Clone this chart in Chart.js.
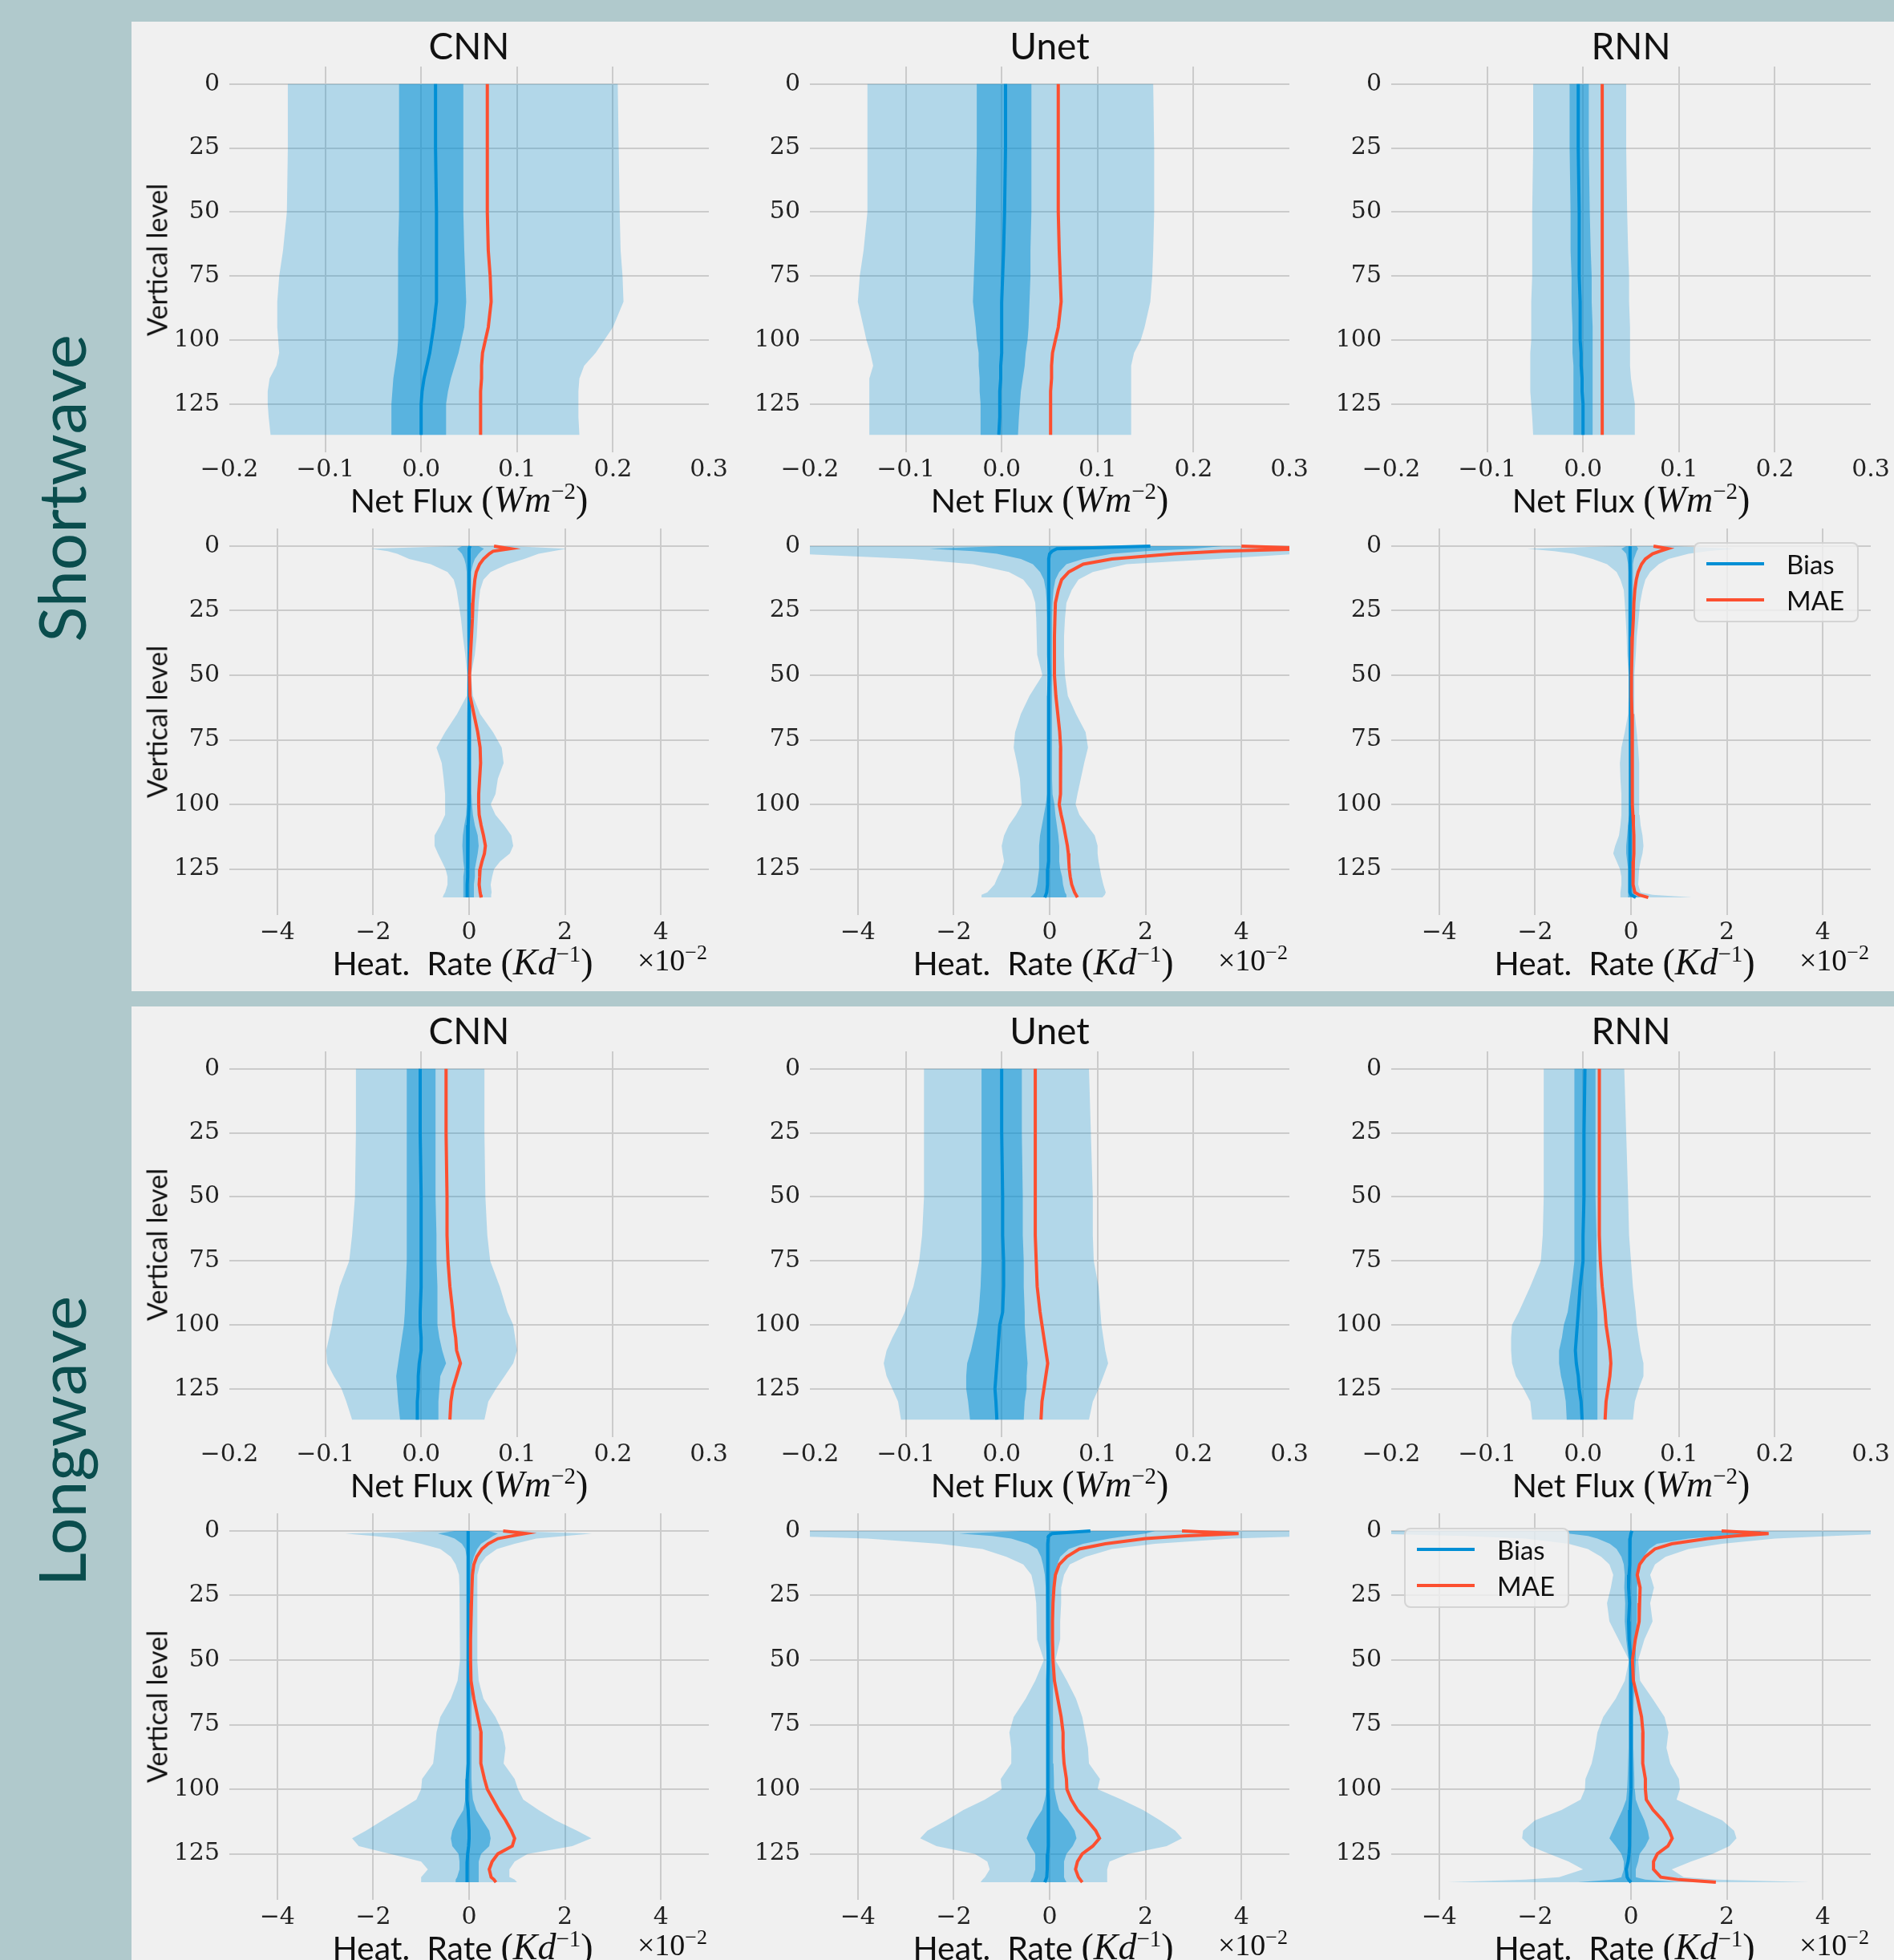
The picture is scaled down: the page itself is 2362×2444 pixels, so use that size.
<!DOCTYPE html>
<html>
<head>
<meta charset="utf-8">
<script src="https://cdn.jsdelivr.net/npm/chart.js@4.4.1/dist/chart.umd.min.js"></script>
<style>
  html, body { margin: 0; padding: 0; }
  body { width: 2362px; height: 2444px; background: #b0c9cc; position: relative; overflow: hidden; font-family: Lato, sans-serif; }
  .panel { position: absolute; left: 164px; width: 2198px; height: 1209px; background: #f0f0f0; }
  canvas { position: absolute; }
  .txt { position: absolute; white-space: nowrap; color: #111; transform: translate(-50%, -50%); }
  .title { font-size: 46px; }
  .xlab { font-size: 41px; }
  .ylab { font-size: 34px; transform: translate(-50%, -50%) rotate(-90deg); }
  .row { font-size: 82px; color: #0a4d4d; transform: translate(-50%, -50%) rotate(-90deg); }
  .m { font-family: 'Liberation Serif', serif; font-size: 46px; }
  .m sup { font-size: 29px; }
  .off { position: absolute; white-space: nowrap; font-family: 'Liberation Serif', serif; font-size: 38px; color: #111; transform: translate(-100%, -50%); }
  .off sup { font-size: 26px; }
  .legend { position: absolute; background: rgba(240,240,240,0.8); border: 2px solid rgba(204,204,204,0.8); border-radius: 8px; box-sizing: border-box; }
  .legend .item { position: absolute; font-size: 33px; color: #111; transform: translateY(-50%); }
  .legend .sw { position: absolute; height: 4px; transform: translateY(-50%); }
</style>
</head>
<body>
<div class="panel" style="top:27px"></div>
<div class="panel" style="top:1255px"></div>
<script>
// vertical levels (flux on half-levels, heating rate on full levels)
const fluxLevels = [0, 25, 50, 65, 75, 85, 95, 100, 105, 110, 115, 120, 125, 130, 137];
const heatLevels = [0, 1, 2, 3, 5, 7, 10, 13, 17, 22, 28, 35, 42, 50, 58, 65, 72, 78, 84, 90, 96, 100, 104, 108, 112, 116, 119, 122, 125, 128, 131, 134, 135, 136];

const fluxTicks = [-0.2, -0.1, 0, 0.1, 0.2, 0.3];
const heatTicks = [-4, -2, 0, 2, 4];   // x 10^-2
const levelTicks = [0, 25, 50, 75, 100, 125];
const models = ["CNN", "Unet", "RNN"];

// ---- Shortwave, net flux (W m^-2) ----
const swFluxCnnOuterLo = [-0.139,-0.139,-0.140,-0.144,-0.148,-0.150,-0.150,-0.149,-0.148,-0.151,-0.158,-0.160,-0.160,-0.159,-0.157];
const swFluxCnnInnerLo = [-0.023,-0.023,-0.023,-0.024,-0.024,-0.024,-0.024,-0.024,-0.025,-0.027,-0.029,-0.030,-0.031,-0.031,-0.031];
const swFluxCnnBias    = [0.015,0.015,0.016,0.016,0.016,0.016,0.013,0.011,0.009,0.006,0.003,0.001,0.000,0.000,0.000];
const swFluxCnnInnerHi = [0.044,0.044,0.044,0.045,0.046,0.047,0.045,0.042,0.039,0.035,0.031,0.028,0.026,0.026,0.026];
const swFluxCnnOuterHi = [0.205,0.206,0.207,0.208,0.210,0.211,0.200,0.191,0.182,0.170,0.165,0.164,0.164,0.164,0.165];
const swFluxCnnMae     = [0.069,0.069,0.069,0.070,0.072,0.073,0.070,0.067,0.064,0.063,0.063,0.062,0.062,0.062,0.062];

const swFluxUnetOuterLo = [-0.140,-0.140,-0.140,-0.144,-0.148,-0.150,-0.144,-0.141,-0.137,-0.134,-0.138,-0.138,-0.138,-0.138,-0.138];
const swFluxUnetInnerLo = [-0.026,-0.026,-0.027,-0.028,-0.029,-0.030,-0.027,-0.026,-0.024,-0.024,-0.023,-0.023,-0.022,-0.022,-0.022];
const swFluxUnetBias    = [0.004,0.004,0.003,0.002,0.001,0.000,0.000,0.000,0.000,-0.001,-0.001,-0.002,-0.002,-0.002,-0.003];
const swFluxUnetInnerHi = [0.031,0.031,0.031,0.030,0.030,0.029,0.028,0.027,0.025,0.024,0.022,0.020,0.019,0.018,0.017];
const swFluxUnetOuterHi = [0.158,0.159,0.159,0.158,0.157,0.155,0.149,0.145,0.138,0.135,0.135,0.135,0.135,0.135,0.135];
const swFluxUnetMae     = [0.059,0.059,0.059,0.060,0.061,0.062,0.059,0.056,0.053,0.052,0.052,0.051,0.051,0.051,0.051];

const swFluxRnnOuterLo = [-0.052,-0.052,-0.053,-0.053,-0.053,-0.054,-0.054,-0.054,-0.055,-0.055,-0.055,-0.055,-0.054,-0.053,-0.052];
const swFluxRnnInnerLo = [-0.014,-0.014,-0.013,-0.013,-0.012,-0.012,-0.011,-0.011,-0.011,-0.010,-0.010,-0.010,-0.010,-0.010,-0.010];
const swFluxRnnBias    = [-0.005,-0.005,-0.004,-0.004,-0.004,-0.003,-0.003,-0.003,-0.002,-0.002,-0.001,-0.001,0.000,0.000,0.000];
const swFluxRnnInnerHi = [0.006,0.006,0.007,0.008,0.009,0.009,0.010,0.010,0.010,0.010,0.010,0.010,0.010,0.010,0.010];
const swFluxRnnOuterHi = [0.045,0.045,0.046,0.047,0.048,0.048,0.049,0.049,0.049,0.049,0.050,0.052,0.054,0.054,0.054];
const swFluxRnnMae     = [0.020,0.020,0.020,0.020,0.020,0.020,0.020,0.020,0.020,0.020,0.020,0.020,0.020,0.020,0.020];

// ---- Shortwave, heating rate (x 10^-2 K d^-1) ----
const swHeatCnnOuterLo = [-0.3,-2.05,-1.7,-1.5,-1.25,-0.8,-0.45,-0.32,-0.26,-0.22,-0.17,-0.13,-0.08,-0.04,-0.05,-0.25,-0.5,-0.68,-0.57,-0.53,-0.5,-0.5,-0.5,-0.6,-0.72,-0.72,-0.65,-0.57,-0.49,-0.45,-0.45,-0.5,-0.53,-0.55];
const swHeatCnnInnerLo = [-0.15,-0.25,-0.2,-0.15,-0.1,-0.07,-0.05,-0.04,-0.04,-0.04,-0.04,-0.04,-0.03,-0.03,-0.03,-0.04,-0.05,-0.05,-0.05,-0.05,-0.05,-0.05,-0.06,-0.1,-0.13,-0.14,-0.13,-0.12,-0.1,-0.12,-0.12,-0.12,-0.12,-0.12];
const swHeatCnnBias    = [0.02,0,0,0,0,0,0,0,0,0,0,0,0,0,0,0,0,0,0,0,0,0,-0.01,-0.02,-0.03,-0.03,-0.03,-0.03,-0.03,-0.03,-0.04,-0.04,-0.04,-0.04];
const swHeatCnnInnerHi = [0.2,0.31,0.25,0.2,0.12,0.08,0.05,0.04,0.04,0.04,0.04,0.04,0.03,0.03,0.03,0.04,0.05,0.05,0.05,0.05,0.05,0.06,0.08,0.12,0.18,0.2,0.18,0.15,0.12,0.12,0.1,0.1,0.1,0.1];
const swHeatCnnOuterHi = [0.9,2.03,1.75,1.45,1.15,0.8,0.45,0.3,0.23,0.2,0.18,0.16,0.12,0.04,0.08,0.23,0.5,0.68,0.72,0.6,0.55,0.45,0.55,0.73,0.88,0.92,0.85,0.65,0.52,0.48,0.45,0.47,0.46,0.46];
const swHeatCnnMae     = [0.52,0.86,0.5,0.42,0.3,0.22,0.15,0.12,0.1,0.08,0.07,0.05,0.03,0.01,0.02,0.1,0.18,0.23,0.24,0.22,0.2,0.2,0.21,0.25,0.3,0.34,0.32,0.27,0.23,0.22,0.21,0.23,0.24,0.25];

const swHeatUnetOuterLo = [-5.5,-5.5,-5.5,-5.2,-2.86,-1.6,-0.85,-0.55,-0.38,-0.3,-0.28,-0.27,-0.26,-0.15,-0.42,-0.6,-0.72,-0.75,-0.68,-0.62,-0.6,-0.58,-0.7,-0.85,-0.95,-1.0,-0.98,-0.95,-1.0,-1.08,-1.15,-1.3,-1.42,-1.42];
const swHeatUnetInnerLo = [-1.0,-2.5,-1.6,-1.1,-0.6,-0.35,-0.2,-0.12,-0.08,-0.06,-0.05,-0.05,-0.05,-0.05,-0.05,-0.05,-0.05,-0.05,-0.05,-0.05,-0.05,-0.08,-0.12,-0.16,-0.2,-0.22,-0.22,-0.22,-0.22,-0.24,-0.26,-0.3,-0.35,-0.4];
const swHeatUnetBias    = [2.1,0.15,0.05,0,-0.02,-0.02,-0.02,-0.02,-0.02,-0.02,-0.02,-0.02,-0.02,-0.01,-0.02,-0.02,-0.02,-0.02,-0.02,-0.02,-0.02,-0.02,-0.02,-0.02,-0.02,-0.03,-0.03,-0.03,-0.04,-0.04,-0.05,-0.06,-0.08,-0.1];
const swHeatUnetInnerHi = [3.6,3.0,2.0,1.3,0.7,0.35,0.2,0.12,0.08,0.06,0.05,0.05,0.05,0.05,0.05,0.05,0.05,0.05,0.05,0.05,0.06,0.1,0.12,0.15,0.18,0.2,0.2,0.2,0.22,0.26,0.28,0.32,0.35,0.35];
const swHeatUnetOuterHi = [5.5,5.5,5.5,5.2,3.5,1.6,0.9,0.6,0.46,0.35,0.32,0.3,0.3,0.32,0.38,0.55,0.75,0.8,0.72,0.65,0.58,0.54,0.62,0.78,0.94,1.0,1.0,1.02,1.05,1.08,1.12,1.17,1.15,1.1];
const swHeatUnetMae     = [4.0,5.6,3.6,2.6,1.3,0.7,0.4,0.25,0.18,0.12,0.11,0.1,0.1,0.1,0.13,0.17,0.21,0.23,0.23,0.23,0.22,0.2,0.24,0.29,0.33,0.37,0.39,0.4,0.41,0.43,0.46,0.52,0.55,0.58];

const swHeatRnnOuterLo = [-0.3,-2.16,-1.6,-1.2,-0.8,-0.5,-0.3,-0.22,-0.15,-0.13,-0.11,-0.09,-0.08,-0.05,-0.05,-0.06,-0.13,-0.2,-0.23,-0.22,-0.2,-0.2,-0.2,-0.22,-0.25,-0.33,-0.37,-0.3,-0.23,-0.2,-0.2,-0.22,-0.22,-0.22];
const swHeatRnnInnerLo = [-0.1,-0.2,-0.15,-0.1,-0.08,-0.06,-0.05,-0.04,-0.04,-0.04,-0.04,-0.04,-0.04,-0.04,-0.04,-0.04,-0.04,-0.04,-0.04,-0.04,-0.04,-0.04,-0.05,-0.06,-0.08,-0.1,-0.1,-0.08,-0.06,-0.06,-0.06,-0.06,-0.06,-0.06];
const swHeatRnnBias    = [-0.02,-0.02,-0.02,-0.02,-0.02,-0.02,-0.02,-0.02,-0.02,-0.02,-0.02,-0.02,-0.02,-0.01,-0.01,-0.01,-0.01,-0.01,-0.01,-0.01,-0.01,-0.01,-0.01,-0.02,-0.02,-0.03,-0.03,-0.02,-0.02,-0.02,-0.02,-0.02,0.0,0.1];
const swHeatRnnInnerHi = [0.12,0.15,0.12,0.1,0.06,0.05,0.04,0.04,0.04,0.04,0.04,0.04,0.04,0.04,0.04,0.04,0.04,0.04,0.04,0.04,0.04,0.04,0.05,0.05,0.06,0.08,0.08,0.06,0.05,0.05,0.05,0.06,0.08,0.2];
const swHeatRnnOuterHi = [0.9,2.15,1.6,1.2,0.78,0.58,0.4,0.3,0.24,0.19,0.16,0.12,0.1,0.07,0.07,0.08,0.12,0.15,0.17,0.17,0.17,0.17,0.18,0.2,0.24,0.26,0.24,0.2,0.17,0.16,0.15,0.2,0.45,1.27];
const swHeatRnnMae     = [0.47,0.77,0.6,0.45,0.3,0.22,0.15,0.11,0.08,0.06,0.05,0.03,0.02,0.01,0.01,0.02,0.02,0.03,0.03,0.03,0.03,0.03,0.04,0.05,0.06,0.06,0.06,0.05,0.04,0.04,0.05,0.08,0.17,0.36];

// ---- Longwave, net flux (W m^-2) ----
const lwFluxCnnOuterLo = [-0.068,-0.068,-0.069,-0.072,-0.075,-0.085,-0.091,-0.093,-0.096,-0.099,-0.098,-0.091,-0.083,-0.078,-0.072];
const lwFluxCnnInnerLo = [-0.015,-0.015,-0.015,-0.015,-0.015,-0.016,-0.017,-0.018,-0.020,-0.022,-0.024,-0.026,-0.025,-0.024,-0.022];
const lwFluxCnnBias    = [-0.001,-0.001,0.000,0.000,0.000,0.000,-0.001,-0.001,0.000,0.000,-0.002,-0.003,-0.003,-0.004,-0.004];
const lwFluxCnnInnerHi = [0.015,0.015,0.015,0.016,0.016,0.017,0.017,0.017,0.019,0.022,0.026,0.020,0.019,0.018,0.018];
const lwFluxCnnOuterHi = [0.066,0.066,0.067,0.069,0.072,0.082,0.090,0.096,0.098,0.100,0.096,0.087,0.078,0.070,0.066];
const lwFluxCnnMae     = [0.026,0.026,0.027,0.027,0.028,0.030,0.033,0.034,0.036,0.037,0.041,0.037,0.033,0.031,0.030];

const lwFluxUnetOuterLo = [-0.081,-0.081,-0.081,-0.083,-0.086,-0.092,-0.101,-0.107,-0.114,-0.120,-0.123,-0.120,-0.114,-0.108,-0.105];
const lwFluxUnetInnerLo = [-0.021,-0.021,-0.021,-0.021,-0.021,-0.022,-0.024,-0.026,-0.029,-0.032,-0.036,-0.037,-0.037,-0.035,-0.033];
const lwFluxUnetBias    = [0.000,0.000,0.001,0.001,0.002,0.002,0.001,-0.002,-0.003,-0.004,-0.005,-0.006,-0.007,-0.006,-0.005];
const lwFluxUnetInnerHi = [0.021,0.021,0.022,0.022,0.023,0.023,0.024,0.024,0.025,0.026,0.027,0.026,0.026,0.024,0.023];
const lwFluxUnetOuterHi = [0.091,0.093,0.095,0.095,0.096,0.101,0.103,0.104,0.106,0.108,0.111,0.106,0.101,0.095,0.091];
const lwFluxUnetMae     = [0.035,0.035,0.035,0.035,0.036,0.037,0.040,0.042,0.044,0.046,0.048,0.046,0.044,0.042,0.041];

const lwFluxRnnOuterLo = [-0.041,-0.041,-0.041,-0.042,-0.044,-0.055,-0.067,-0.074,-0.075,-0.075,-0.074,-0.070,-0.062,-0.055,-0.053];
const lwFluxRnnInnerLo = [-0.009,-0.009,-0.009,-0.009,-0.009,-0.012,-0.016,-0.020,-0.022,-0.025,-0.025,-0.023,-0.020,-0.018,-0.017];
const lwFluxRnnBias    = [0.002,0.001,0.001,0.000,0.000,-0.003,-0.005,-0.006,-0.007,-0.008,-0.007,-0.005,-0.004,-0.002,-0.001];
const lwFluxRnnInnerHi = [0.013,0.013,0.013,0.014,0.014,0.014,0.015,0.015,0.015,0.015,0.015,0.015,0.015,0.015,0.015];
const lwFluxRnnOuterHi = [0.043,0.045,0.047,0.048,0.050,0.052,0.055,0.056,0.058,0.060,0.063,0.063,0.058,0.054,0.052];
const lwFluxRnnMae     = [0.017,0.017,0.017,0.017,0.018,0.020,0.023,0.024,0.026,0.028,0.029,0.028,0.026,0.024,0.023];

// ---- Longwave, heating rate (x 10^-2 K d^-1) ----
const lwHeatCnnOuterLo = [-0.4,-2.58,-2.0,-1.5,-1.0,-0.6,-0.38,-0.28,-0.21,-0.2,-0.19,-0.19,-0.19,-0.19,-0.24,-0.38,-0.6,-0.68,-0.71,-0.75,-0.98,-1.0,-1.1,-1.45,-1.8,-2.15,-2.44,-2.3,-1.64,-1.0,-0.86,-1.0,-1.0,-1.0];
const lwHeatCnnInnerLo = [-0.3,-0.65,-0.45,-0.3,-0.15,-0.08,-0.05,-0.05,-0.05,-0.05,-0.05,-0.05,-0.05,-0.05,-0.05,-0.05,-0.05,-0.05,-0.05,-0.05,-0.05,-0.06,-0.08,-0.12,-0.25,-0.35,-0.38,-0.35,-0.22,-0.2,-0.2,-0.25,-0.28,-0.28];
const lwHeatCnnBias    = [-0.02,-0.02,-0.02,-0.02,-0.02,-0.02,-0.02,-0.02,-0.02,-0.02,-0.02,-0.02,-0.02,-0.02,-0.02,-0.02,-0.02,-0.02,-0.02,-0.03,-0.04,-0.05,-0.04,-0.02,-0.01,0.0,0.0,-0.01,-0.03,-0.04,-0.05,-0.04,-0.04,-0.04];
const lwHeatCnnInnerHi = [0.4,0.6,0.5,0.42,0.25,0.17,0.1,0.06,0.05,0.05,0.05,0.05,0.05,0.05,0.05,0.05,0.05,0.05,0.05,0.05,0.05,0.06,0.08,0.15,0.28,0.42,0.45,0.42,0.25,0.2,0.2,0.2,0.2,0.2];
const lwHeatCnnOuterHi = [0.8,2.56,2.0,1.4,0.95,0.58,0.35,0.23,0.18,0.17,0.17,0.17,0.17,0.17,0.2,0.3,0.55,0.7,0.76,0.72,0.95,1.02,1.13,1.45,1.8,2.25,2.55,2.15,1.22,0.95,0.84,0.85,0.95,1.0];
const lwHeatCnnMae     = [0.71,1.18,0.88,0.6,0.4,0.27,0.16,0.1,0.07,0.06,0.05,0.04,0.03,0.03,0.04,0.1,0.18,0.25,0.24,0.25,0.32,0.38,0.5,0.62,0.76,0.88,0.95,0.9,0.6,0.48,0.42,0.46,0.52,0.56];

const lwHeatUnetOuterLo = [-5.5,-5.5,-5.5,-3.8,-2.3,-1.4,-0.9,-0.55,-0.38,-0.32,-0.28,-0.27,-0.26,-0.12,-0.3,-0.5,-0.75,-0.84,-0.8,-0.8,-1.02,-1.0,-1.35,-1.8,-2.15,-2.55,-2.7,-2.36,-1.56,-1.3,-1.25,-1.35,-1.4,-1.44];
const lwHeatUnetInnerLo = [-0.6,-1.88,-1.2,-0.8,-0.45,-0.26,-0.18,-0.14,-0.1,-0.08,-0.07,-0.07,-0.07,-0.06,-0.06,-0.06,-0.06,-0.06,-0.06,-0.06,-0.06,-0.06,-0.1,-0.16,-0.3,-0.42,-0.48,-0.4,-0.3,-0.3,-0.3,-0.35,-0.38,-0.4];
const lwHeatUnetBias    = [0.85,0.05,-0.02,-0.03,-0.04,-0.04,-0.04,-0.04,-0.04,-0.04,-0.04,-0.04,-0.04,-0.03,-0.04,-0.04,-0.04,-0.04,-0.04,-0.04,-0.04,-0.04,-0.03,-0.03,-0.03,-0.03,-0.02,-0.03,-0.04,-0.05,-0.05,-0.06,-0.08,-0.1];
const lwHeatUnetInnerHi = [2.2,2.0,1.6,1.25,0.7,0.4,0.22,0.16,0.11,0.08,0.07,0.07,0.07,0.06,0.07,0.07,0.07,0.07,0.07,0.08,0.09,0.1,0.14,0.2,0.38,0.52,0.56,0.48,0.35,0.3,0.3,0.3,0.32,0.35];
const lwHeatUnetOuterHi = [5.5,5.5,5.5,3.8,2.2,1.3,0.75,0.42,0.3,0.24,0.24,0.22,0.22,0.12,0.36,0.55,0.68,0.74,0.8,0.82,1.05,1.0,1.5,1.95,2.3,2.62,2.76,2.44,1.64,1.25,1.2,1.2,1.2,1.2];
const lwHeatUnetMae     = [2.76,3.94,2.8,2.0,1.16,0.62,0.36,0.2,0.12,0.09,0.07,0.06,0.06,0.07,0.1,0.17,0.24,0.28,0.28,0.3,0.35,0.36,0.45,0.58,0.78,0.96,1.04,0.9,0.68,0.58,0.54,0.6,0.64,0.68];

const lwHeatRnnOuterLo = [-5.5,-5.5,-3.5,-2.2,-1.3,-0.9,-0.62,-0.45,-0.37,-0.42,-0.5,-0.45,-0.26,-0.04,-0.13,-0.32,-0.58,-0.7,-0.75,-0.82,-0.95,-0.96,-1.05,-1.45,-2.0,-2.25,-2.27,-2.1,-1.7,-1.3,-1.0,-1.5,-2.2,-3.82];
const lwHeatRnnInnerLo = [-1.3,-1.3,-0.9,-0.7,-0.44,-0.3,-0.2,-0.15,-0.13,-0.14,-0.12,-0.13,-0.1,-0.05,-0.05,-0.05,-0.05,-0.05,-0.05,-0.06,-0.07,-0.08,-0.1,-0.18,-0.28,-0.38,-0.45,-0.32,-0.2,-0.15,-0.15,-0.2,-0.4,-1.1];
const lwHeatRnnBias    = [0.02,0.0,-0.01,-0.02,-0.02,-0.02,-0.03,-0.03,-0.04,-0.05,-0.03,-0.05,-0.04,0.0,0.0,0.0,0.0,0.0,0.0,0.0,0.0,0.0,-0.01,-0.02,-0.03,-0.03,-0.03,-0.03,-0.04,-0.06,-0.1,-0.08,-0.05,0.0];
const lwHeatRnnInnerHi = [2.7,2.7,1.8,1.2,0.54,0.38,0.26,0.19,0.15,0.13,0.12,0.12,0.1,0.1,0.08,0.06,0.05,0.05,0.05,0.06,0.07,0.08,0.1,0.18,0.28,0.35,0.38,0.3,0.18,0.15,0.1,0.1,0.3,1.0];
const lwHeatRnnOuterHi = [5.5,5.5,4.2,3.0,1.9,1.2,0.72,0.5,0.4,0.48,0.4,0.45,0.28,0.15,0.19,0.45,0.7,0.78,0.74,0.82,1.0,1.02,0.95,1.42,1.9,2.15,2.2,2.05,1.7,1.25,0.85,1.1,1.8,3.71];
const lwHeatRnnMae     = [1.89,2.87,2.16,1.6,0.85,0.5,0.3,0.18,0.13,0.19,0.18,0.17,0.09,0.03,0.05,0.14,0.22,0.25,0.24,0.25,0.3,0.3,0.32,0.46,0.66,0.8,0.86,0.77,0.55,0.47,0.47,0.62,1.0,1.77];

// ---- layout ----
const BIAS_COLOR = "#008fd5";
const MAE_COLOR = "#fc4f30";
const PLOT_W = 598;
const colLeft = [286, 1010, 1735];
const rows = [
    { kind: "flux", top: 83, h: 481 },
    { kind: "heat", top: 659, h: 482 },
    { kind: "flux", top: 1311, h: 481 },
    { kind: "heat", top: 1887, h: 482 }
];

const panels = [
    [0, 0, [swFluxCnnOuterLo, swFluxCnnInnerLo, swFluxCnnBias, swFluxCnnInnerHi, swFluxCnnOuterHi, swFluxCnnMae]],
    [0, 1, [swFluxUnetOuterLo, swFluxUnetInnerLo, swFluxUnetBias, swFluxUnetInnerHi, swFluxUnetOuterHi, swFluxUnetMae]],
    [0, 2, [swFluxRnnOuterLo, swFluxRnnInnerLo, swFluxRnnBias, swFluxRnnInnerHi, swFluxRnnOuterHi, swFluxRnnMae]],
    [1, 0, [swHeatCnnOuterLo, swHeatCnnInnerLo, swHeatCnnBias, swHeatCnnInnerHi, swHeatCnnOuterHi, swHeatCnnMae]],
    [1, 1, [swHeatUnetOuterLo, swHeatUnetInnerLo, swHeatUnetBias, swHeatUnetInnerHi, swHeatUnetOuterHi, swHeatUnetMae]],
    [1, 2, [swHeatRnnOuterLo, swHeatRnnInnerLo, swHeatRnnBias, swHeatRnnInnerHi, swHeatRnnOuterHi, swHeatRnnMae]],
    [2, 0, [lwFluxCnnOuterLo, lwFluxCnnInnerLo, lwFluxCnnBias, lwFluxCnnInnerHi, lwFluxCnnOuterHi, lwFluxCnnMae]],
    [2, 1, [lwFluxUnetOuterLo, lwFluxUnetInnerLo, lwFluxUnetBias, lwFluxUnetInnerHi, lwFluxUnetOuterHi, lwFluxUnetMae]],
    [2, 2, [lwFluxRnnOuterLo, lwFluxRnnInnerLo, lwFluxRnnBias, lwFluxRnnInnerHi, lwFluxRnnOuterHi, lwFluxRnnMae]],
    [3, 0, [lwHeatCnnOuterLo, lwHeatCnnInnerLo, lwHeatCnnBias, lwHeatCnnInnerHi, lwHeatCnnOuterHi, lwHeatCnnMae]],
    [3, 1, [lwHeatUnetOuterLo, lwHeatUnetInnerLo, lwHeatUnetBias, lwHeatUnetInnerHi, lwHeatUnetOuterHi, lwHeatUnetMae]],
    [3, 2, [lwHeatRnnOuterLo, lwHeatRnnInnerLo, lwHeatRnnBias, lwHeatRnnInnerHi, lwHeatRnnOuterHi, lwHeatRnnMae]]
];

const Y_W = 100, PAD_T = 40, PAD_R = 50, X_H = 70;
const TICK_FONT = { family: "DejaVu Serif", size: 30 };
const minus = s => String(s).replace("-", "\u2212");

function addText(html, cls, x, y) {
    const d = document.createElement("div");
    d.className = cls;
    d.innerHTML = html;
    d.style.left = x + "px";
    d.style.top = y + "px";
    document.body.appendChild(d);
    return d;
}

function drawPanel([rowIdx, col, series]) {
    const row = rows[rowIdx];
    const isFlux = row.kind === "flux";
    const levels = isFlux ? fluxLevels : heatLevels;
    const xTicks = isFlux ? fluxTicks : heatTicks;
    const xMin = isFlux ? -0.2 : -5, xMax = isFlux ? 0.3 : 5;
    const yPad = isFlux ? 6.85 : 6.8;
    const yMax = levels[levels.length - 1];
    const [outerLo, innerLo, bias, innerHi, outerHi, mae] = series;

    const canvas = document.createElement("canvas");
    canvas.width = PLOT_W + Y_W + PAD_R;
    canvas.height = row.h + PAD_T + X_H;
    canvas.style.left = (colLeft[col] - Y_W) + "px";
    canvas.style.top = (row.top - PAD_T) + "px";
    document.body.appendChild(canvas);

    const line = arr => arr.map((v, i) => ({ x: v, y: levels[i] }));
    const band = (lo, hi) => line(lo).concat(line(hi).reverse());
    const edge = v => v <= xMin + 1e-9 || v >= xMax - 1e-9;

    new Chart(canvas, {
        type: "line",
        data: {
            datasets: [
                { label: "MAE", data: line(mae), borderColor: MAE_COLOR, borderWidth: 4, pointRadius: 0, fill: false },
                { label: "Bias", data: line(bias), borderColor: BIAS_COLOR, borderWidth: 4, pointRadius: 0, fill: false },
                { label: "inner", data: band(innerLo, innerHi), borderWidth: 0, pointRadius: 0, backgroundColor: "rgba(0,143,213,0.5)", fill: "shape" },
                { label: "outer", data: band(outerLo, outerHi), borderWidth: 0, pointRadius: 0, backgroundColor: "rgba(0,143,213,0.26)", fill: "shape" }
            ]
        },
        options: {
            indexAxis: "y",
            responsive: false,
            animation: false,
            devicePixelRatio: 1,
            events: [],
            layout: { padding: { top: PAD_T, right: PAD_R, left: 0, bottom: 0 } },
            plugins: { legend: { display: false }, tooltip: { enabled: false } },
            scales: {
                x: {
                    type: "linear", position: "bottom", min: xMin, max: xMax,
                    afterBuildTicks: s => { s.ticks = xTicks.map(v => ({ value: v })); },
                    afterFit: s => { s.height = X_H; },
                    border: { display: false },
                    grid: { drawTicks: false, lineWidth: 2, color: c => edge(c.tick.value) ? "rgba(0,0,0,0)" : "#cbcbcb" },
                    ticks: {
                        font: TICK_FONT, color: "#222", padding: 4,
                        maxRotation: 0, autoSkip: false,
                        callback: v => minus(isFlux ? v.toFixed(1) : v)
                    }
                },
                y: {
                    type: "linear", position: "left", reverse: true, min: -yPad, max: yMax + yPad,
                    afterBuildTicks: s => { s.ticks = levelTicks.map(v => ({ value: v })); },
                    afterFit: s => { s.width = Y_W; },
                    border: { display: false },
                    grid: { drawTicks: false, lineWidth: 2, color: "#cbcbcb" },
                    ticks: { font: TICK_FONT, color: "#222", padding: 12, autoSkip: false }
                }
            }
        }
    });

    const cx = colLeft[col] + PLOT_W / 2;
    const bottom = row.top + row.h;
    if (isFlux) {
        addText(models[col], "txt title", cx, row.top - 27);
        addText('Net Flux <span class="m">(<i>Wm</i><sup>\u22122</sup>)</span>', "txt xlab", cx, bottom + 59);
    } else {
        addText('Heat. &nbsp;Rate <span class="m">(<i>Kd</i><sup>\u22121</sup>)</span>', "txt xlab", cx - 8, bottom + 59);
        addText('\u00d710<sup>\u22122</sup>', "off", colLeft[col] + PLOT_W - 2, bottom + 55);
    }
    if (col === 0) addText("Vertical level", "txt ylab", 195, row.top + row.h / 2);
}

panels.forEach(drawPanel);

function addLegend(left, top) {
    const box = document.createElement("div");
    box.className = "legend";
    Object.assign(box.style, { left: left + "px", top: top + "px", width: "206px", height: "100px" });
    [["Bias", BIAS_COLOR, 25], ["MAE", MAE_COLOR, 70]].forEach(([name, color, dy]) => {
        const sw = document.createElement("div");
        sw.className = "sw";
        Object.assign(sw.style, { left: "14px", top: dy + "px", width: "72px", background: color });
        const t = document.createElement("div");
        t.className = "item";
        Object.assign(t.style, { left: "114px", top: dy + "px" });
        t.textContent = name;
        box.appendChild(sw);
        box.appendChild(t);
    });
    document.body.appendChild(box);
}
addLegend(2112, 676);
addLegend(1751, 1905);

addText("Shortwave", "txt row", 75, 609);
addText("Longwave", "txt row", 75, 1797);
</script>
</body>
</html>
